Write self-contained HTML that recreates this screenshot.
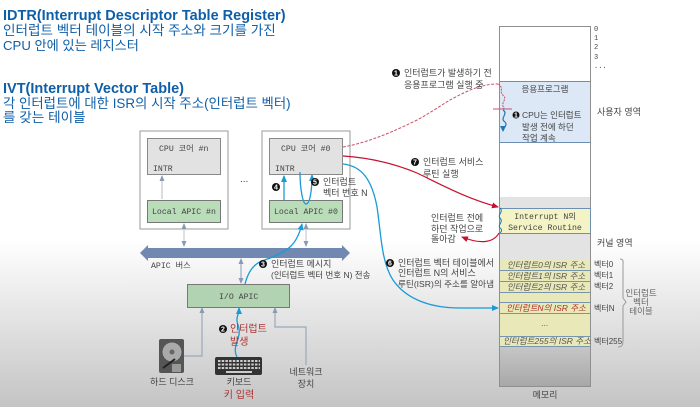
<!DOCTYPE html>
<html><head><meta charset="utf-8"><style>
html,body{margin:0;padding:0;background:#fff}
svg{display:block;filter:blur(0.35px);font-size:9px}
text{font-family:"Liberation Sans","Noto Sans CJK KR",sans-serif;fill:#444}
.m{font-family:"Liberation Mono","Noto Sans CJK KR",monospace;font-size:8.2px}
.t{fill:#0f5fa8}
.bb{fill:#0f5fa8;font-weight:bold;font-size:14.5px}
.i{font-style:italic;font-size:8.5px;fill:#555}
.d{font-size:7px;fill:#fff;text-anchor:middle;font-weight:bold}
.r{fill:#a33;font-size:10px}
.v{font-size:8px}
.s{font-size:8.5px;fill:#666}
</style></head><body>
<svg width="700" height="407" viewBox="0 0 700 407" xmlns="http://www.w3.org/2000/svg">
<defs>
<linearGradient id="bg" x1="0" y1="0" x2="0" y2="1"><stop offset="0" stop-color="#fff"/><stop offset="1" stop-color="#c4c4c4"/></linearGradient>
<linearGradient id="mem" x1="0" y1="0" x2="0" y2="1"><stop offset="0" stop-color="#c6c6c6"/><stop offset="1" stop-color="#a8a8a8"/></linearGradient>
<marker id="ab" markerUnits="userSpaceOnUse" markerWidth="7" markerHeight="7" refX="6" refY="3.5" orient="auto"><path d="M0 0.5L7 3.500L0 6.500z" fill="#1a9ad6"/></marker>
<marker id="ad" markerUnits="userSpaceOnUse" markerWidth="6" markerHeight="6" refX="5" refY="3" orient="auto"><path d="M0 0L6 3L0 6z" fill="#1f77b4"/></marker>
<marker id="ag" markerUnits="userSpaceOnUse" markerWidth="6" markerHeight="6" refX="5" refY="3" orient="auto-start-reverse"><path d="M0 0.5L6 3L0 5.500z" fill="#8a9ab5"/></marker>
<marker id="ar" markerUnits="userSpaceOnUse" markerWidth="7" markerHeight="7" refX="6" refY="3.5" orient="auto"><path d="M0 0.5L7 3.500L0 6.500z" fill="#c8102e"/></marker>
</defs>
<rect width="700" height="407" fill="#fff"/>
<rect y="240" width="700" height="167" fill="url(#bg)"/>

<text x="3" y="20" class="bb">IDTR(Interrupt Descriptor Table Register)</text>
<text x="3" y="35" class="t" font-size="13.6">인터럽트 벡터 테이블의 시작 주소와 크기를 가진</text>
<text x="3" y="50" class="t" font-size="13.2">CPU 안에 있는 레지스터</text>
<text x="3" y="93" class="bb">IVT(Interrupt Vector Table)</text>
<text x="3" y="108" class="t" font-size="13.4">각 인터럽트에 대한 ISR의 시작 주소(인터럽트 벡터)</text>
<text x="3" y="122" class="t" font-size="13.6">를 갖는 테이블</text>

<!-- CPU n -->
<rect x="140" y="131" width="88" height="98" fill="#fff" stroke="#aaa" stroke-width="1.2"/>
<rect x="147.500" y="138.500" width="73" height="36" fill="#e2e2e2" stroke="#888"/>
<text x="159" y="151" class="m">CPU 코어 #n</text>
<text x="153" y="171" class="m">INTR</text>
<rect x="147.500" y="200.500" width="73" height="22" fill="#b9dcb9" stroke="#777"/>
<text x="152" y="214" class="m">Local APIC #n</text>
<path d="M162 199V176" stroke="#bbb" fill="none" marker-end="url(#ag)"/>
<path d="M184 246V224" stroke="#ccc" stroke-width="1.200" fill="none" marker-start="url(#ag)" marker-end="url(#ag)"/>
<text x="240" y="182" font-size="10">...</text>

<!-- CPU 0 -->
<rect x="262" y="131" width="88" height="98" fill="#fff" stroke="#aaa" stroke-width="1.2"/>
<rect x="269.500" y="138.500" width="73" height="36" fill="#e2e2e2" stroke="#888"/>
<text x="281" y="151" class="m">CPU 코어 #0</text>
<text x="275" y="171" class="m">INTR</text>
<rect x="269.500" y="200.500" width="73" height="22" fill="#b9dcb9" stroke="#777"/>
<text x="274" y="214" class="m">Local APIC #0</text>
<path d="M306 246V224" stroke="#ccc" stroke-width="1.200" fill="none" marker-start="url(#ag)" marker-end="url(#ag)"/>

<!-- bus -->
<path d="M140 253L148 245V248H342V245L350 253L342 261V258H148V261z" fill="#7188b0"/>
<text x="151" y="268" class="m">APIC 버스</text>

<!-- IO APIC -->
<rect x="187.500" y="284.500" width="102" height="23" fill="#b2d3b2" stroke="#777"/>
<text x="219" y="299" class="m">I/O APIC</text>
<path d="M241 283V259" stroke="#8a9ab5" fill="none" marker-start="url(#ag)" marker-end="url(#ag)"/>
<path d="M184 356H202V308" stroke="#9aa8bd" stroke-width="1.200" fill="none" marker-end="url(#ag)"/>
<path d="M306 365V327H275V308" stroke="#9aa8bd" stroke-width="1.200" fill="none" marker-end="url(#ag)"/>

<!-- blue arrows -->
<path d="M245 284C248 272 254 264 262 261C276 256 285 252 291 246C297 240 300 232 302 224" stroke="#1a9ad6" stroke-width="1.300" fill="none" marker-end="url(#ab)"/>
<path d="M284 200V176" stroke="#1a9ad6" stroke-width="1.300" fill="none" marker-end="url(#ab)"/>
<path d="M300 172C300 190 303 204 306 204C310 204 312 190 312 175" stroke="#1a9ad6" stroke-width="1.300" fill="none" marker-end="url(#ab)"/>
<path d="M237 357C231 345 243 338 238 325C235 318 239 315 239 308" stroke="#1a9ad6" stroke-width="1.300" fill="none" marker-end="url(#ab)"/>
<path d="M343 164C362 166 372 180 377 207C381 232 381 262 393 280C404 296 425 308 460 308L498 308" stroke="#1a9ad6" stroke-width="1.300" fill="none" marker-end="url(#ab)"/>

<!-- red -->
<path d="M343 156C375 158 400 166 417 173C440 184 465 198 498 207" stroke="#c8102e" stroke-width="1.200" fill="none" marker-end="url(#ar)"/>
<path d="M343 147C360 144 383 137 417 120C430 113 440 106 450 100C465 92 480 84 498 84" stroke="#c8506a" stroke-width="1" stroke-dasharray="3 1.500" fill="none"/>

<!-- numbered labels -->
<circle cx="276" cy="187" r="4" fill="#111"/><text x="276" y="189.500" class="d">4</text>
<circle cx="315" cy="182" r="4" fill="#111"/><text x="315" y="184.500" class="d">5</text>
<text x="323" y="185">인터럽트</text><text x="323" y="196">벡터 번호 N</text>
<circle cx="263" cy="264" r="4" fill="#111"/><text x="263" y="266.500" class="d">3</text>
<text x="271" y="267">인터럽트 메시지</text><text x="271" y="278" font-size="8.5">(인터럽트 벡터 번호 N) 전송</text>
<circle cx="223" cy="329" r="4" fill="#111"/><text x="223" y="331.500" class="d">2</text>
<text x="230" y="332" class="r">인터럽트</text><text x="230" y="345" class="r">발생</text>
<circle cx="396" cy="73" r="4" fill="#111"/><text x="396" y="75.500" class="d">1</text>
<text x="404" y="76">인터럽트가 발생하기 전</text><text x="404" y="88">응용프로그램 실행 중</text>
<circle cx="415" cy="162" r="4" fill="#111"/><text x="415" y="164.500" class="d">7</text>
<text x="423" y="165">인터럽트 서비스</text><text x="423" y="177">루틴 실행</text>
<circle cx="390" cy="263" r="4" fill="#111"/><text x="390" y="265.500" class="d">6</text>
<text x="398" y="266">인터럽트 벡터 테이블에서</text><text x="398" y="276">인터럽트 N의 서비스</text><text x="398" y="287" font-size="8.6">루틴(ISR)의 주소를 알아냄</text>
<text x="431" y="221" fill="#333">인터럽트 전에</text><text x="431" y="232">하던 작업으로</text><text x="431" y="242">돌아감</text>

<!-- memory -->
<rect x="499.500" y="26.500" width="91" height="360" fill="#fff" stroke="#999"/>
<rect x="499.500" y="81.500" width="91" height="61" fill="#dce8f6" stroke="#6d8fb3"/>
<rect x="500" y="197" width="90" height="62" fill="#e3e3e3"/>
<rect x="500" y="347" width="90" height="39" fill="url(#mem)"/>
<rect x="499.500" y="26.500" width="91" height="360" fill="none" stroke="#8f8f8f"/>
<rect x="499.500" y="208.500" width="91" height="25" fill="#f4f3c6" stroke="#6d8fb3"/>
<text x="545" y="219" class="m" text-anchor="middle">Interrupt N의</text>
<text x="545" y="230" class="m" text-anchor="middle">Service Routine</text>
<text x="545" y="92" text-anchor="middle" font-size="8.5">응용프로그램</text>
<circle cx="516" cy="115" r="3.500" fill="#111"/><text x="516" y="117.500" class="d">1</text>
<text x="522" y="118" font-size="8.5">CPU는 인터럽트</text><text x="522" y="130" font-size="8.5">발생 전에 하던</text><text x="522" y="141" font-size="8.5">작업 계속</text>
<path d="M498 84C505 88 498 92 504 96C507 100 500 103 504 108L502 110" stroke="#c8506a" stroke-dasharray="2 1" fill="none"/>
<path d="M493 109H512" stroke="#c8506a"/>
<path d="M503 110C509 114 499 118 505 122C508 125 503 128 503 131" stroke="#1f77b4" stroke-width="1.200" fill="none" marker-end="url(#ad)"/>
<path d="M500 208C504 212 497 215 500 218C504 222 497 225 500 228C503 230 501 232 500 233" stroke="#1f77b4" fill="none"/>
<path d="M499 233C494 242 482 245 462 237" stroke="#c8102e" stroke-width="1.200" fill="none" marker-end="url(#ar)"/>

<!-- table -->
<rect x="500" y="259" width="90" height="88" fill="#e9e8b8"/>
<g stroke="#7795ad" fill="none">
<path d="M500 270.500H590M500 281.500H590M500 292.500H590M500 302.500H590M500 313.500H590M500 336.500H590M500 346.500H590"/>
</g>
<g text-anchor="middle">
<text x="546" y="268" class="i">인터럽트0의 ISR 주소</text>
<text x="546" y="279" class="i">인터럽트1의 ISR 주소</text>
<text x="546" y="290" class="i">인터럽트2의 ISR 주소</text>
<text x="546" y="311" class="i" style="fill:#b03030">인터럽트N의 ISR 주소</text>
<text x="545" y="326" class="i">...</text>
<text x="547" y="344" class="i">인터럽트255의 ISR 주소</text>
</g>

<!-- right labels -->
<g class="s">
<text x="594" y="31" class="m" font-size="7" style="font-size:7px">0</text><text x="594" y="40" class="m" style="font-size:7px">1</text><text x="594" y="49" class="m" style="font-size:7px">2</text><text x="594" y="59" class="m" style="font-size:7px">3</text><text x="594" y="68" class="m" style="font-size:7px">...</text>
</g>
<text x="597" y="115">사용자 영역</text>
<text x="597" y="246">커널 영역</text>
<text x="594" y="267" class="v">벡터0</text><text x="594" y="278" class="v">벡터1</text><text x="594" y="289" class="v">벡터2</text><text x="594" y="311" class="v">벡터N</text><text x="594" y="344" class="v">벡터255</text>
<path d="M620 259C624 259 623 262 623 266V298L626 302L623 306V340C623 345 622 347 618 347" stroke="#999" fill="none"/>
<g text-anchor="middle"><text x="641" y="296" class="s">인터럽트</text><text x="641" y="305" class="s">벡터</text><text x="641" y="314" class="s">테이블</text></g>
<text x="545" y="398" text-anchor="middle">메모리</text>

<!-- devices -->
<rect x="159" y="339" width="25" height="34" rx="2" fill="#555"/>
<circle cx="172" cy="352" r="9.500" fill="#aaa"/><circle cx="172" cy="352" r="2.500" fill="#666"/>
<path d="M163 368L175 359" stroke="#222" stroke-width="2"/><rect x="172" y="364" width="9" height="8" fill="#999"/>
<text x="172" y="385" text-anchor="middle">하드 디스크</text>
<rect x="215" y="357" width="47" height="18" rx="2" fill="#333"/>
<g stroke="#ccc" stroke-dasharray="2.500 1.200" stroke-width="2"><path d="M218 361H260M218 364.500H260M218 368H260"/></g>
<path d="M226 372H252" stroke="#ccc" stroke-width="2"/>
<text x="239" y="385" text-anchor="middle">키보드</text>
<text x="239" y="398" text-anchor="middle" class="r">키 입력</text>
<text x="306" y="375" text-anchor="middle">네트워크</text><text x="306" y="387" text-anchor="middle">장치</text>
</svg>
</body></html>
